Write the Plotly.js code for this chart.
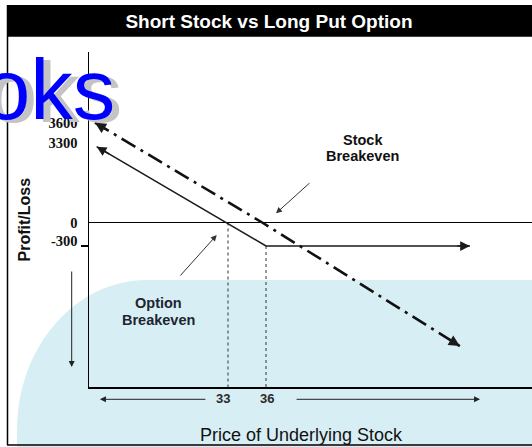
<!DOCTYPE html>
<html>
<head>
<meta charset="utf-8">
<script src="https://cdn.plot.ly/plotly-3.0.1.min.js"></script>
<style>html,body{margin:0;padding:0;background:#fff;}#chart{width:532px;height:447px;}</style>
</head>
<body>
<div id="chart"></div>
<script>
// ---- data (schematic payoff diagram) ----
const titleText = 'Short Stock vs Long Put Option';
const xTitle = 'Price of Underlying Stock';
const yTitle = 'Profit/Loss';
const xTickVals = [33, 36];
const xTickText = ['33', '36'];
const yTickVals = [1270, 1010, 0, -232];
const yTickText = ['3600', '3300', '0', '-300'];
// long put payoff (solid)
const putX = [22.63, 36, 52.1];
const putY = [968, -300, -300];
// short stock payoff (dash-dot)
const stockX = [22.5, 35.7, 51.3];
const stockY = [1274, 0, -1577];
// breakeven verticals
const optionBreakeven = 33;
const strikePrice = 36;
const putFloor = -300;
const xRange = [22.026, 57];
const yRange = [-2100, 2176.6];

// ---- layout helpers (pixel -> paper) ----
const L = 89, T = 52, W = 443, H = 335;
const px = x => (x - L) / W;
const py = y => (T + H - y) / H;

const ink = '#1a1a1a';
const traces = [
  {x: [optionBreakeven, optionBreakeven], y: [0, yRange[0]], mode: 'lines',
   line: {color: '#333', width: 1, dash: '3px,3px'}, hoverinfo: 'skip'},
  {x: [strikePrice, strikePrice], y: [putFloor, yRange[0]], mode: 'lines',
   line: {color: '#333', width: 1, dash: '3px,3px'}, hoverinfo: 'skip'},
  {x: putX, y: putY, mode: 'lines', line: {color: ink, width: 1.5}, hoverinfo: 'skip'},
  {x: stockX, y: stockY, mode: 'lines', line: {color: '#111', width: 2.6, dash: '16px,6px,3px,6px'}, hoverinfo: 'skip'}
];

const arrowAnn = (x, y, ax, ay, w, s) => ({x, y, xref: 'x', yref: 'y', ax, ay, text: '', showarrow: true,
  arrowhead: 2, arrowwidth: w, arrowsize: s, arrowcolor: ink});

const sans = 'Liberation Sans, Arial, sans-serif';
const annotations = [
  // line arrowheads
  arrowAnn(putX[0], putY[0], 14, 8.2, 1.5, 1.3),
  arrowAnn(putX[2], putY[2], -14, 0, 1.5, 1.3),
  arrowAnn(stockX[0], stockY[0], 12, 7.3, 2, 1.1),
  arrowAnn(stockX[2], stockY[2], -12, -7.3, 2, 1.1),
  // pointer arrows
  {x: 36.79, y: 117, xref: 'x', yref: 'y', ax: 35, ay: -31.6, text: '', showarrow: true,
   arrowhead: 2, arrowwidth: 1, arrowsize: 1.2, arrowcolor: '#333'},
  {x: 32.11, y: -160, xref: 'x', yref: 'y', ax: -37.7, ay: 42, text: '', showarrow: true,
   arrowhead: 2, arrowwidth: 1, arrowsize: 1.2, arrowcolor: '#333'},
  // axis direction arrows
  {x: 22.89, y: py(399.3), xref: 'x', yref: 'paper', ax: 107, ay: 0, text: '', showarrow: true,
   arrowhead: 2, arrowwidth: 1, arrowsize: 1.2, arrowcolor: '#222'},
  {x: 52.9, y: py(399.3), xref: 'x', yref: 'paper', ax: -185, ay: 0, text: '', showarrow: true,
   arrowhead: 2, arrowwidth: 1, arrowsize: 1.2, arrowcolor: '#222'},
  {x: px(71.7), y: py(367), xref: 'paper', yref: 'paper', ax: 0, ay: -97, text: '', showarrow: true,
   arrowhead: 2, arrowwidth: 1, arrowsize: 1.2, arrowcolor: '#222'},
  // x tick labels
  {x: xTickVals[0], xshift: -5.5, y: py(398.3), xref: 'x', yref: 'paper', text: xTickText[0], showarrow: false,
   xanchor: 'center', yanchor: 'middle', font: {family: sans, size: 13, color: '#2a2a2a', weight: 'bold'}},
  {x: xTickVals[1], xshift: 0.5, y: py(398.3), xref: 'x', yref: 'paper', text: xTickText[1], showarrow: false,
   xanchor: 'center', yanchor: 'middle', font: {family: sans, size: 13, color: '#2a2a2a', weight: 'bold'}},
  // labels
  {x: px(362.5), y: py(140), xref: 'paper', yref: 'paper', text: 'Stock', showarrow: false,
   xanchor: 'center', yanchor: 'middle', font: {family: sans, size: 14.5, color: '#111', weight: 'bold'}},
  {x: px(362.5), y: py(156), xref: 'paper', yref: 'paper', text: 'Breakeven', showarrow: false,
   xanchor: 'center', yanchor: 'middle', font: {family: sans, size: 14.5, color: '#111', weight: 'bold'}},
  {x: px(158.5), y: py(302.5), xref: 'paper', yref: 'paper', text: 'Option', showarrow: false,
   xanchor: 'center', yanchor: 'middle', font: {family: sans, size: 14.5, color: '#1c2630', weight: 'bold'}},
  {x: px(158.5), y: py(320), xref: 'paper', yref: 'paper', text: 'Breakeven', showarrow: false,
   xanchor: 'center', yanchor: 'middle', font: {family: sans, size: 14.5, color: '#1c2630', weight: 'bold'}},
  // axis titles
  {x: px(301), y: py(435), xref: 'paper', yref: 'paper', text: xTitle, showarrow: false,
   xanchor: 'center', yanchor: 'middle', font: {family: sans, size: 18, color: '#111'}},
  {x: px(24), y: py(219.5), xref: 'paper', yref: 'paper', text: yTitle, showarrow: false, textangle: -90,
   xanchor: 'center', yanchor: 'middle', font: {family: sans, size: 16, color: '#111', weight: 'bold'}},
  // watermark fragment (shadow + blue)
  {x: px(-19), xshift: 7, y: py(139), yshift: -3, xref: 'paper', yref: 'paper', text: 'oks', showarrow: false,
   xanchor: 'left', yanchor: 'bottom', font: {family: sans, size: 85, color: '#c4c4c4'}},
  {x: px(-19), y: py(139), xref: 'paper', yref: 'paper', text: 'oks', showarrow: false,
   xanchor: 'left', yanchor: 'bottom', font: {family: sans, size: 85, color: '#0000ff'}}
];

const k = 0.5523, rx = 130, ry = 150, cx = 147, cy = 430, topY = 280;
const blobPath = 'M' + px(17) + ',' + py(450) +
  ' L' + px(17) + ',' + py(cy) +
  ' C' + px(17) + ',' + py(cy - ry * k) + ' ' + px(cx - rx * k) + ',' + py(topY) + ' ' + px(cx) + ',' + py(topY) +
  ' L' + px(545) + ',' + py(topY) + ' L' + px(545) + ',' + py(450) + ' Z';

const shapes = [
  {type: 'path', xref: 'paper', yref: 'paper', path: blobPath, fillcolor: '#d8eef5', line: {width: 0}, layer: 'below'},
  {type: 'rect', xref: 'paper', yref: 'paper', x0: px(7), x1: px(545), y0: py(36.7), y1: py(5),
   fillcolor: '#000', line: {width: 0}, layer: 'below'},
  {type: 'line', xref: 'paper', yref: 'paper', x0: px(7.5), x1: px(7.5), y0: py(5), y1: py(445),
   line: {color: '#000', width: 1.5}},
  {type: 'line', xref: 'paper', yref: 'paper', x0: px(7), x1: px(545), y0: py(445), y1: py(445),
   line: {color: '#000', width: 1.5}},
  {type: 'line', xref: 'paper', yref: 'y', x0: px(81), x1: px(89), y0: putFloor, y1: putFloor,
   line: {color: '#000', width: 2}}
];

const layout = {
  width: 532, height: 447,
  margin: {l: L, r: 532 - L - W, t: T, b: 447 - T - H, pad: 0},
  paper_bgcolor: '#fff', plot_bgcolor: 'rgba(0,0,0,0)',
  showlegend: false,
  title: {text: titleText, font: {family: sans, size: 19, color: '#fff', weight: 'bold'},
          x: 269 / 532, xanchor: 'center', y: 1 - 21.5 / 447, yanchor: 'middle', xref: 'container', yref: 'container'},
  xaxis: {range: xRange, showline: true, linecolor: '#000', linewidth: 1.5, zeroline: false, showgrid: false,
          showticklabels: false, ticks: '', fixedrange: true},
  yaxis: {range: yRange, showline: true, linecolor: '#000', linewidth: 1.5, zeroline: true, zerolinecolor: '#000',
          zerolinewidth: 1, showgrid: false, ticks: '', tickvals: yTickVals, ticktext: yTickText,
          ticklabelstandoff: 7,
          tickfont: {family: 'Liberation Serif, Times New Roman, serif', size: 14.5, color: '#111', weight: 'bold'},
          fixedrange: true},
  shapes, annotations
};

Plotly.newPlot('chart', traces, layout, {displayModeBar: false, staticPlot: true});
</script>
</body>
</html>
